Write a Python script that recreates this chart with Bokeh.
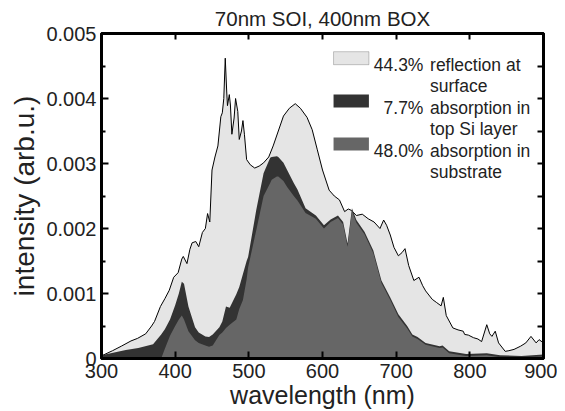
from bokeh.plotting import figure
from bokeh.models import LinearAxis, FixedTicker, Label, BoxAnnotation, Range1d
from bokeh.embed import file_html
from bokeh.resources import INLINE

# ---------------- data ----------------
wl_total = [300, 315, 327, 340, 349, 360, 368, 372, 380, 386, 392, 398, 404, 409, 411, 416, 420,
            423, 428, 432, 437, 441, 444, 447, 450, 454, 458, 462, 464, 466, 468, 470, 471, 473.5,
            475, 477, 480, 482, 485, 487, 490, 492, 494, 497, 502, 508, 514, 520, 527, 533, 540,
            547, 555, 563, 570, 579, 586, 593, 600, 609, 616, 623, 630, 635, 639, 646, 654, 662,
            670, 678, 683, 687, 692, 697, 703, 708, 712, 717, 724, 731, 736, 740, 749, 755, 761,
            764, 768, 777, 784, 791, 793, 798, 805, 811, 816, 823, 827, 830, 834.5, 839, 848, 853,
            860, 869, 876, 883, 890, 894, 900]
total = [0.00004, 0.00012, 0.00019, 0.00027, 0.00031, 0.00038, 0.00050, 0.00057, 0.00080, 0.00092,
         0.00105, 0.00125, 0.00132, 0.00153, 0.00157, 0.00146, 0.00168, 0.00178, 0.00180, 0.00172,
         0.00194, 0.00200, 0.00223, 0.00210, 0.00290, 0.00310, 0.00327, 0.00372, 0.00378, 0.00400,
         0.00462, 0.00410, 0.00389, 0.00406, 0.00390, 0.00345, 0.00370, 0.00400, 0.00380, 0.00337,
         0.00350, 0.00366, 0.00345, 0.00306, 0.00298, 0.00293, 0.00296, 0.00301, 0.00310, 0.00327,
         0.00350, 0.00373, 0.00385, 0.00392, 0.00385, 0.00371, 0.00352, 0.00321, 0.00290, 0.00259,
         0.00250, 0.00244, 0.00226, 0.00230, 0.00228, 0.00220, 0.00222, 0.00215, 0.00210, 0.00200,
         0.00213, 0.00205, 0.00190, 0.00171, 0.00158, 0.00163, 0.00169, 0.00143, 0.00120, 0.00125,
         0.00112, 0.00104, 0.00091, 0.00086, 0.00081, 0.00094, 0.00066, 0.00047, 0.00044, 0.00042,
         0.00037, 0.00036, 0.00032, 0.00030, 0.00026, 0.00052, 0.00038, 0.00034, 0.00042, 0.00024,
         0.00011, 0.00012, 0.00014, 0.00019, 0.00024, 0.00034, 0.00024, 0.00029, 0.00024]

wl_abs = [300, 333, 350, 370, 381, 386, 393, 400, 405, 409, 412, 418, 427, 432, 441, 446, 451, 460,
          464, 469, 474, 483, 487, 492, 497, 499, 510, 520, 529, 531, 538, 540, 547, 552, 561, 566,
          577, 591, 602, 611, 621, 628, 634, 640, 646, 657, 669, 680, 692, 703, 715, 722, 729, 740,
          759, 763, 772, 795, 823, 841, 870, 900]
top_si_plus_substrate = [0.00005, 0.00013, 0.00016, 0.00022, 0.00037, 0.00045, 0.00060, 0.00082,
                         0.00100, 0.00118, 0.00115, 0.00080, 0.00048, 0.00040, 0.00034, 0.00033,
                         0.00037, 0.00048, 0.00057, 0.00080, 0.00078, 0.00099, 0.00110, 0.00130,
                         0.00150, 0.00156, 0.00228, 0.00285, 0.00309, 0.00310, 0.00311, 0.00310,
                         0.00301, 0.00290, 0.00270, 0.00260, 0.00231, 0.00220, 0.00205, 0.00214,
                         0.00220, 0.00210, 0.00177, 0.00231, 0.00213, 0.00195, 0.00166, 0.00120,
                         0.00094, 0.00068, 0.00050, 0.00037, 0.00033, 0.00024, 0.00019, 0.00020,
                         0.00011, 0.00007, 0.00008, 0.00005, 0.00004, 0.00006]
substrate = [0.0, 0.0, 0.0, 0.0, 0.0, 0.00015, 0.00035, 0.00050, 0.00060, 0.00066, 0.00060, 0.00042,
             0.00028, 0.00024, 0.00020, 0.00018, 0.00020, 0.00036, 0.00040, 0.00047, 0.00052,
             0.00060, 0.00076, 0.00090, 0.00122, 0.00140, 0.00197, 0.00250, 0.00270, 0.00275,
             0.00280, 0.00280, 0.00273, 0.00264, 0.00250, 0.00243, 0.00224, 0.00215, 0.00200,
             0.00210, 0.00216, 0.00206, 0.00172, 0.00227, 0.00209, 0.00191, 0.00162, 0.00116,
             0.00090, 0.00064, 0.00046, 0.00034, 0.00030, 0.00021, 0.00016, 0.00017, 0.00008,
             0.00004, 0.00005, 0.00002, 0.00002, 0.00003]

x_ticks = [300, 400, 500, 600, 700, 800, 900]
y_ticks = [0.0, 0.001, 0.002, 0.003, 0.004, 0.005]
y_tick_labels = ["0", "0.001", "0.002", "0.003", "0.004", "0.005"]
y_minor_ticks = [0.0005, 0.0015, 0.0025, 0.0035, 0.0045]
x_title = "wavelength (nm)"
y_title = "intensity (arb.u.)"
chart_title = "70nm SOI, 400nm BOX"
legend_percent = ["44.3%", "7.7%", "48.0%"]
legend_lines = [["reflection at", "surface"], ["absorption in", "top Si layer"],
                ["absorption in", "substrate"]]

# ---------------- style ----------------
FONT = "Liberation Sans"
TXT = "#222222"
LIGHT = "#e5e5e5"
DARK = "#333333"
MID = "#666666"

p = figure(width=557, height=411, x_range=Range1d(300, 900), y_range=Range1d(0, 0.005),
           output_backend="svg", toolbar_location=None,
           min_border_left=101, min_border_right=14, min_border_top=10, min_border_bottom=10,
           x_axis_label=x_title, y_axis_label=y_title)
p.grid.visible = False
p.outline_line_color = "black"
p.outline_line_width = 3
p.background_fill_color = "white"

p.title.text = chart_title
p.title.align = "center"
p.title.text_font = FONT
p.title.text_font_size = "20.5px"
p.title.text_font_style = "normal"
p.title.text_color = TXT
p.title.standoff = 8

# areas
p.varea(x=wl_total, y1=0, y2=total, fill_color=LIGHT)
p.line(x=wl_total, y=total, line_color="black", line_width=1)
p.varea(x=wl_abs, y1=0, y2=top_si_plus_substrate, fill_color=DARK)
p.varea(x=wl_abs, y1=0, y2=substrate, fill_color=MID)

# axes
xa = p.xaxis[0]
xa.ticker = FixedTicker(ticks=x_ticks)
ya = p.yaxis[0]
ya.ticker = FixedTicker(ticks=y_ticks, minor_ticks=y_minor_ticks)
ya.major_label_overrides = {t: s for t, s in zip(y_ticks, y_tick_labels)}
for ax in (xa, ya):
    ax.axis_line_width = 3
    ax.axis_line_color = "black"
    ax.major_tick_in = 7
    ax.major_tick_out = 0
    ax.minor_tick_in = 4
    ax.minor_tick_out = 0
    ax.major_tick_line_width = 2
    ax.minor_tick_line_width = 2
    ax.major_label_text_font = FONT
    ax.major_label_text_font_size = "20px"
    ax.major_label_text_color = TXT
    ax.axis_label_text_font = FONT
    ax.axis_label_text_font_style = "normal"
    ax.axis_label_text_color = TXT
xa.major_label_standoff = 5
xa.axis_label_text_font_size = "25px"
xa.axis_label_standoff = 0
ya.major_label_standoff = 5
ya.axis_label_text_font_size = "28px"
ya.axis_label_standoff = 3

top = LinearAxis(ticker=FixedTicker(ticks=x_ticks))
right = LinearAxis(ticker=FixedTicker(ticks=sorted(y_ticks + y_minor_ticks)))
for ax, ticks in ((top, x_ticks), (right, sorted(y_ticks + y_minor_ticks))):
    ax.axis_line_width = 3
    ax.major_tick_in = 6
    ax.major_tick_out = 0
    ax.major_tick_line_width = 2
    ax.minor_tick_line_color = None
    ax.major_label_overrides = {t: "" for t in ticks}
    ax.major_label_standoff = 0
p.add_layout(top, "above")
p.add_layout(right, "right")

# legend (swatches + texts)
sw_left, sw_right = 615, 663
sw_tops = [0.00472, 0.00406, 0.00340]
sw_h = 0.00020
sw_colors = [LIGHT, DARK, MID]
for t, c in zip(sw_tops, sw_colors):
    p.add_layout(BoxAnnotation(left=sw_left, right=sw_right, top=t, bottom=t - sw_h,
                               fill_color=c, fill_alpha=1,
                               line_color="#444444" if c == LIGHT else None, line_width=1))
line_gap = 0.000326
for t, pct, lines in zip(sw_tops, legend_percent, legend_lines):
    base = t - sw_h
    p.add_layout(Label(x=737, y=base, text=pct, text_align="right", text_baseline="alphabetic",
                       text_font=FONT, text_font_size="17.5px", text_color=TXT))
    for i, s in enumerate(lines):
        p.add_layout(Label(x=746, y=base - i * line_gap, text=s, text_align="left",
                           text_baseline="alphabetic", text_font=FONT, text_font_size="17.5px",
                           text_color=TXT))

open("out.html", "w").write(file_html(p, INLINE))
